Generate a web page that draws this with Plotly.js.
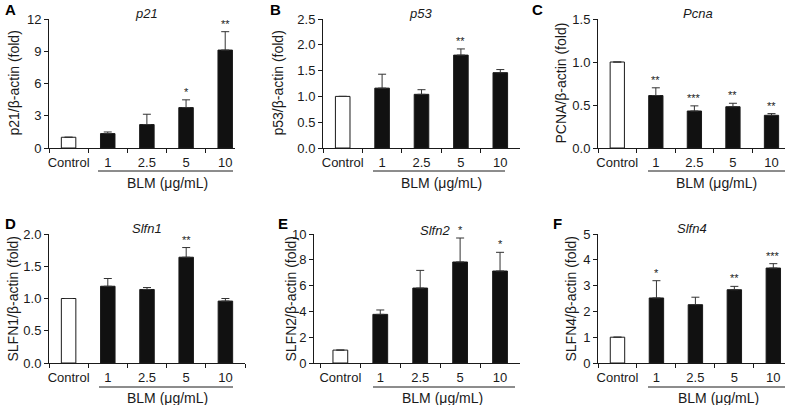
<!DOCTYPE html>
<html>
<head>
<meta charset="utf-8">
<script src="https://cdn.plot.ly/plotly-3.0.1.min.js"></script>
<style>html,body{margin:0;padding:0;background:#fff;}#chart{width:795px;height:405px;}</style>
</head>
<body>
<div id="chart"></div>
<script>
// ---- data ----
const categories = ["Control", "1", "2.5", "5", "10"];

const p21Mean   = [1.0, 1.34, 2.18, 3.76, 9.11];
const p21ErrTop = [null, 1.49, 3.14, 4.48, 10.82];
const p21Sig    = ["", "", "", "*", "**"];

const p53Mean   = [1.0, 1.16, 1.04, 1.80, 1.46];
const p53ErrTop = [null, 1.43, 1.13, 1.92, 1.52];
const p53Sig    = ["", "", "", "**", ""];

const pcnaMean   = [1.0, 0.61, 0.43, 0.48, 0.38];
const pcnaErrTop = [null, 0.70, 0.49, 0.52, 0.40];
const pcnaSig    = ["", "**", "***", "**", "**"];

const slfn1Mean   = [1.0, 1.19, 1.14, 1.64, 0.96];
const slfn1ErrTop = [null, 1.31, 1.17, 1.79, 1.00];
const slfn1Sig    = ["", "", "", "**", ""];

const slfn2Mean   = [1.0, 3.77, 5.81, 7.83, 7.13];
const slfn2ErrTop = [null, 4.11, 7.18, 9.69, 8.58];
const slfn2Sig    = ["", "", "", "*", "*"];

const slfn4Mean   = [1.0, 2.52, 2.26, 2.84, 3.68];
const slfn4ErrTop = [null, 3.19, 2.55, 2.97, 3.85];
const slfn4Sig    = ["", "*", "", "**", "***"];

const panelLetters = ["A", "B", "C", "D", "E", "F"];
const geneTitles = ["p21", "p53", "Pcna", "Slfn1", "Slfn2", "Slfn4"];
const yTitles = ["p21/β-actin (fold)", "p53/β-actin (fold)", "PCNA/β-actin (fold)",
                 "SLFN1/β-actin (fold)", "SLFN2/β-actin (fold)", "SLFN4/β-actin (fold)"];
const groupLabel = "BLM (μg/mL)";
const yMax   = [12, 2.5, 1.5, 2.0, 10, 5];
const yDtick = [3, 0.5, 0.5, 0.5, 2, 1];
const yFormat = ["d", ".1f", ".1f", ".1f", "d", "d"];

const means = [p21Mean, p53Mean, pcnaMean, slfn1Mean, slfn2Mean, slfn4Mean];
const errTops = [p21ErrTop, p53ErrTop, pcnaErrTop, slfn1ErrTop, slfn2ErrTop, slfn4ErrTop];
const sigs = [p21Sig, p53Sig, pcnaSig, slfn1Sig, slfn2Sig, slfn4Sig];

// ---- layout geometry (pixels) ----
const W = 795, H = 405;
const geo = [
  {x: [49, 235],  y: [19, 148],  xr: [-0.5, 4.25], ul: [98, 233],  ulY: 171, blmX: 167, blmY: 183, titleX: 146, titleY: 14, ytX: 13,  letX: 10,  letY: 9},
  {x: [323, 520], y: [19, 148],  xr: [-0.5, 4.5],  ul: [373, 505], ulY: 171, blmX: 441, blmY: 183, titleX: 420, titleY: 14, ytX: 277, letX: 275, letY: 9},
  {x: [598, 785], y: [19, 148],  xr: [-0.5, 4.35], ul: [648, 785], ulY: 171, blmX: 716, blmY: 183, titleX: 698, titleY: 14, ytX: 560, letX: 537, letY: 9},
  {x: [49, 245],  y: [234, 363], xr: [-0.5, 4.5],  ul: [99, 233],  ulY: 387, blmX: 167, blmY: 398, titleX: 147, titleY: 228, ytX: 12,  letX: 10,  letY: 223},
  {x: [314, 520], y: [234, 363], xr: [-0.66, 4.5], ul: [373, 515], ulY: 387, blmX: 442, blmY: 398, titleX: 435, titleY: 230, ytX: 290, letX: 283, letY: 223},
  {x: [598, 785], y: [234, 363], xr: [-0.5, 4.3],  ul: [648, 785], ulY: 387, blmX: 718, blmY: 398, titleX: 692, titleY: 228, ytX: 570, letX: 557, letY: 223}
];

const FONT = "Liberation Sans, Arial, Helvetica, sans-serif";
const INK = "#1a1a1a";
const px2x = p => p / W;
const px2y = p => 1 - p / H;

const data = [];
const layout = {
  width: W, height: H,
  margin: {l: 0, r: 0, t: 0, b: 0},
  paper_bgcolor: "#fff", plot_bgcolor: "#fff",
  showlegend: false,
  font: {family: FONT, size: 13, color: INK},
  annotations: [], shapes: []
};

for (let i = 0; i < 6; i++) {
  const n = i === 0 ? "" : String(i + 1);
  const xa = "x" + n, ya = "y" + n;
  const g = geo[i];
  const m = means[i], et = errTops[i];
  const errPlus = m.map((v, k) => et[k] == null ? NaN : et[k] - v);
  data.push({
    type: "bar", x: categories, y: m, xaxis: xa, yaxis: ya,
    width: 0.37,
    marker: {color: categories.map((c, k) => k === 0 ? "#ffffff" : "#111111"),
             line: {color: INK, width: 1}},
    error_y: {type: "data", symmetric: false, array: errPlus,
              arrayminus: m.map(() => 0), color: "#333", thickness: 1, width: 4},
    hoverinfo: "skip"
  });
  layout["xaxis" + n] = {
    type: "category", anchor: ya,
    domain: [px2x(g.x[0]), px2x(g.x[1])],
    range: g.xr, fixedrange: true,
    showline: true, linecolor: INK, linewidth: 1,
    ticks: "outside", ticklen: 4, tickcolor: INK, tickson: "boundaries",
    tickangle: 0, ticklabelstandoff: 2,
    showgrid: false, zeroline: false,
    tickfont: {family: FONT, size: 13, color: INK}
  };
  layout["yaxis" + n] = {
    anchor: xa,
    domain: [px2y(g.y[1]), px2y(g.y[0])],
    range: [0, yMax[i]], fixedrange: true,
    dtick: yDtick[i], tick0: 0, tickformat: yFormat[i],
    showline: true, linecolor: INK, linewidth: 1,
    ticks: "outside", ticklen: 4, tickcolor: INK,
    showgrid: false, zeroline: false,
    tickfont: {family: FONT, size: 13, color: INK}
  };
  // significance stars
  sigs[i].forEach((s, k) => {
    if (!s) return;
    layout.annotations.push({
      xref: xa, yref: ya, x: k, y: et[k],
      text: s, showarrow: false, yanchor: "bottom", yshift: 0,
      font: {family: FONT, size: 11, color: INK}
    });
  });
  // gene title
  layout.annotations.push({
    xref: "paper", yref: "paper", x: px2x(g.titleX), y: px2y(g.titleY),
    text: "<i>" + geneTitles[i] + "</i>", showarrow: false,
    xanchor: "center", yanchor: "middle",
    font: {family: FONT, size: 13, color: INK}
  });
  // y title
  layout.annotations.push({
    xref: "paper", yref: "paper", x: px2x(g.ytX), y: px2y((g.y[0] + g.y[1]) / 2),
    text: yTitles[i], showarrow: false, textangle: -90,
    xanchor: "center", yanchor: "middle",
    font: {family: FONT, size: 14, color: INK}
  });
  // panel letter
  layout.annotations.push({
    xref: "paper", yref: "paper", x: px2x(g.letX), y: px2y(g.letY),
    text: "<b>" + panelLetters[i] + "</b>", showarrow: false,
    xanchor: "center", yanchor: "middle",
    font: {family: FONT, size: 15, color: "#000"}
  });
  // group label + underline
  layout.shapes.push({
    type: "line", xref: "paper", yref: "paper",
    x0: px2x(g.ul[0]), x1: px2x(g.ul[1]), y0: px2y(g.ulY), y1: px2y(g.ulY),
    line: {color: INK, width: 1}
  });
  layout.annotations.push({
    xref: "paper", yref: "paper", x: px2x(g.blmX), y: px2y(g.blmY),
    text: groupLabel, showarrow: false, xanchor: "center", yanchor: "middle",
    font: {family: FONT, size: 14, color: INK}
  });
}

Plotly.newPlot("chart", data, layout, {displayModeBar: false, staticPlot: true});
</script>
</body>
</html>
